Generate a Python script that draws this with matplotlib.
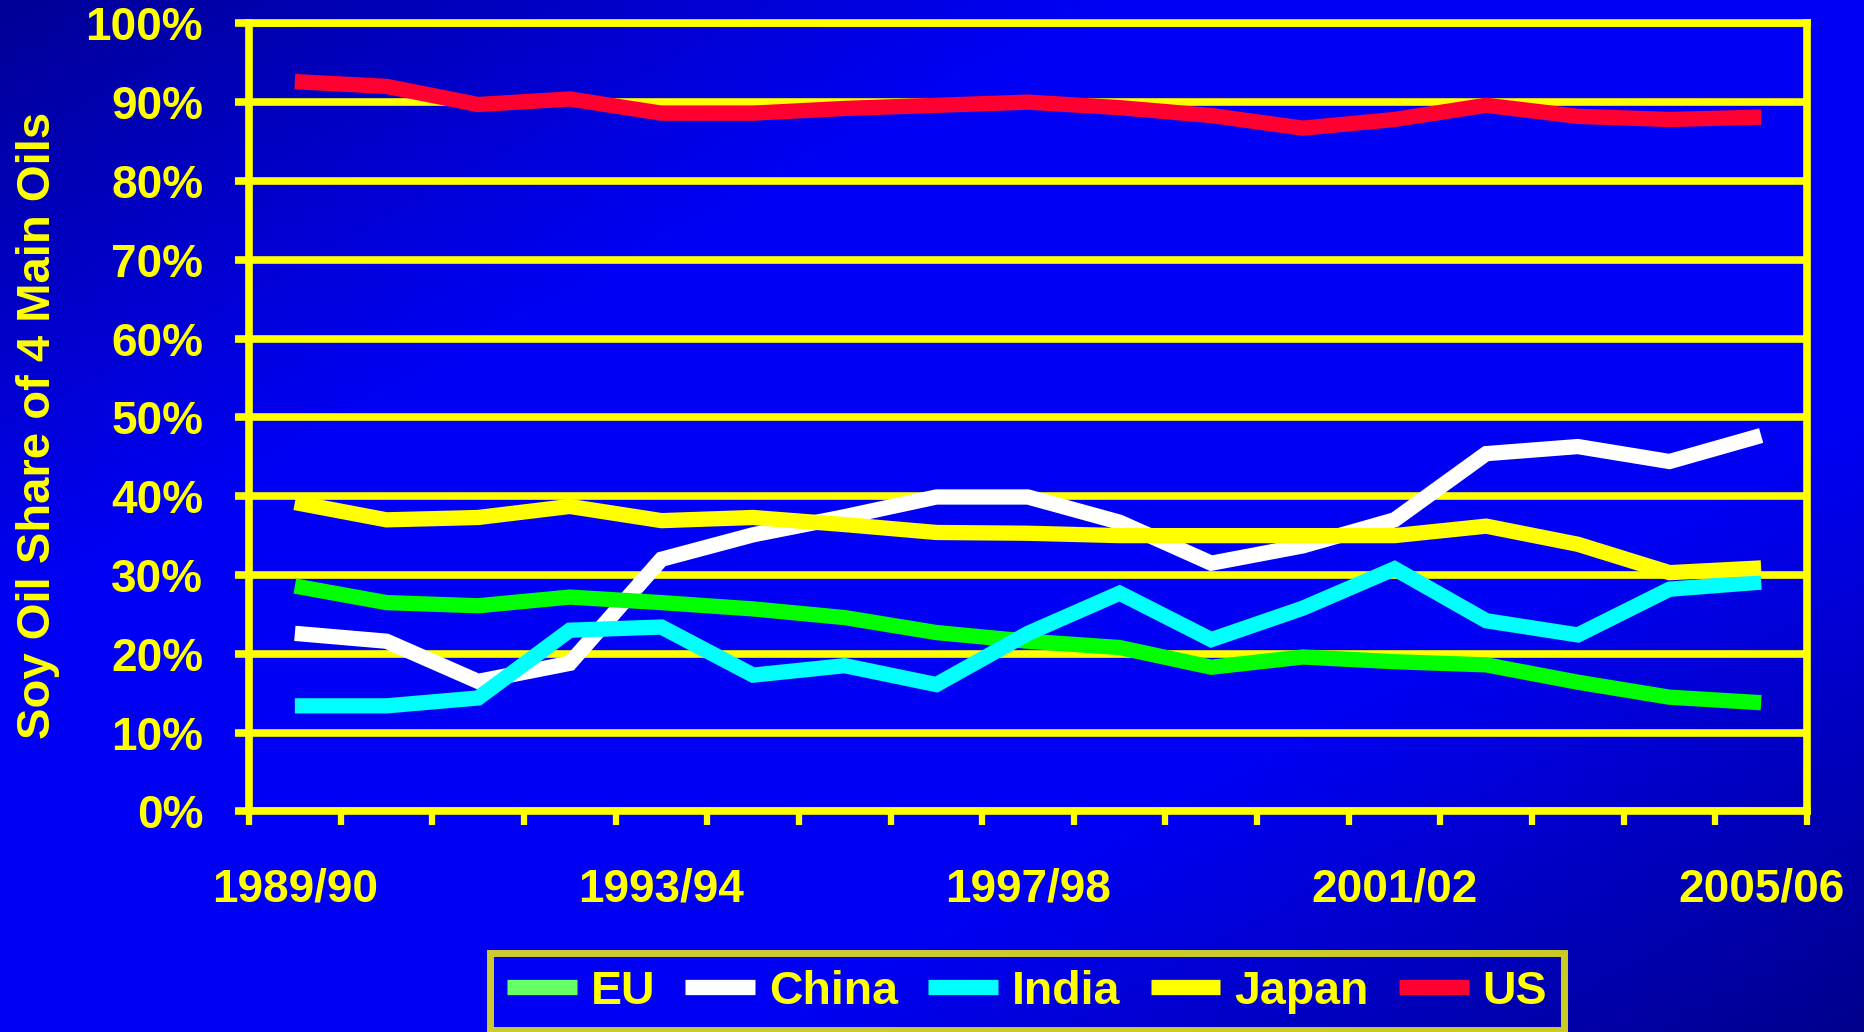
import matplotlib
matplotlib.use('Agg')
import matplotlib.pyplot as plt
import numpy as np
from matplotlib.lines import Line2D

seasons = ['1989/90', '1990/91', '1991/92', '1992/93', '1993/94', '1994/95',
           '1995/96', '1996/97', '1997/98', '1998/99', '1999/00', '2000/01',
           '2001/02', '2002/03', '2003/04', '2004/05', '2005/06']

# soy oil share of 4 main oils, percent
eu = [28.6, 26.5, 26.1, 27.2, 26.5, 25.7, 24.6, 22.7, 21.6, 20.8, 18.3, 19.6, 19.0, 18.6, 16.4, 14.5, 13.8]
china = [22.6, 21.6, 16.5, 18.8, 32.0, 35.1, 37.4, 39.9, 39.9, 36.7, 31.5, 33.7, 37.0, 45.4, 46.3, 44.4, 47.7]
india = [13.4, 13.4, 14.4, 23.0, 23.4, 17.3, 18.5, 16.1, 22.6, 27.7, 21.8, 25.8, 30.8, 24.2, 22.4, 28.2, 29.1]
japan = [39.2, 37.0, 37.3, 38.7, 36.9, 37.3, 36.4, 35.4, 35.3, 35.0, 35.0, 35.0, 35.0, 36.2, 33.9, 30.3, 30.9]
us = [92.6, 92.0, 89.7, 90.4, 88.6, 88.6, 89.2, 89.6, 90.0, 89.3, 88.3, 86.7, 87.8, 89.6, 88.2, 87.8, 88.1]

names = ['EU', 'China', 'India', 'Japan', 'US']

plt.rcParams['font.family'] = ['Liberation Sans', 'DejaVu Sans']
plt.rcParams['font.weight'] = 'bold'
YEL = '#FFFF00'

fig = plt.figure(figsize=(18.64, 10.32), dpi=100)

# diagonal blue gradient background
bg = fig.add_axes([0, 0, 1, 1], zorder=-10)
yy, xx = np.mgrid[0:1:258j, 0:1:466j]
t = (xx + yy) / 2
blue = np.where(t < 0.5,
                150 + 95 * np.minimum(1, t / 0.3),
                140 + 105 * np.minimum(1, (1 - t) / 0.3))
img = np.zeros((258, 466, 3))
img[..., 2] = blue / 255
bg.imshow(img, extent=[0, 1, 0, 1], aspect='auto', interpolation='bilinear')
bg.axis('off')

ax = fig.add_axes([0.1336, 0.2137, 0.8358, 0.7637])
ax.set_facecolor('none')
x = np.arange(len(seasons))

ax.plot(x, china, color='white', lw=11, solid_joinstyle='miter', solid_capstyle='butt', zorder=3)
ax.plot(x, eu, color='#00FF00', lw=11, solid_joinstyle='miter', solid_capstyle='butt', zorder=4)
ax.plot(x, india, color='#00FFFF', lw=11, solid_joinstyle='miter', solid_capstyle='butt', zorder=5)
ax.plot(x, japan, color=YEL, lw=11, solid_joinstyle='miter', solid_capstyle='butt', zorder=6)
ax.plot(x, us, color='#FF0030', lw=11, solid_joinstyle='miter', solid_capstyle='butt', zorder=7)

ax.set_xlim(-0.5, len(seasons) - 0.5)
ax.set_ylim(0, 100)
ax.set_yticks(np.arange(0, 101, 10))
ax.set_yticklabels([f'{v}%' for v in range(0, 101, 10)])
ax.yaxis.grid(True, color=YEL, lw=5.5)
ax.set_axisbelow(True)

ax.set_xticks(x[::4])
ax.set_xticklabels(seasons[::4])
ax.set_xticks(np.arange(-0.5, len(seasons), 1), minor=True)
ax.tick_params(axis='x', which='major', length=0, pad=40, labelsize=33, labelcolor=YEL)
ax.tick_params(axis='x', which='minor', length=10, width=4.5, color=YEL)
ax.tick_params(axis='y', length=10, width=5.5, color=YEL, pad=23, labelsize=33, labelcolor=YEL)

for s in ax.spines.values():
    s.set_color(YEL)
    s.set_linewidth(5.5)

fig.text(38 / 1864, 1 - 425 / 1032, 'Soy Oil Share of 4 Main Oils', rotation=90,
         ha='center', va='center', fontsize=34, color=YEL, weight='bold')

handles = [Line2D([], [], color=c, lw=11, solid_capstyle='butt')
           for c in ['#66FF66', 'white', '#00FFFF', YEL, '#FF0030']]
leg = fig.legend(handles, names, loc='center', bbox_to_anchor=(0.551, 0.039), ncol=5,
                 frameon=True, fancybox=False, edgecolor=YEL, facecolor='none',
                 handlelength=1.5, handletextpad=0.3, columnspacing=0.65,
                 borderpad=0.35, fontsize=33.5, labelcolor=YEL)
leg.get_frame().set_linewidth(5)

fig.savefig('out.png', dpi=100)
